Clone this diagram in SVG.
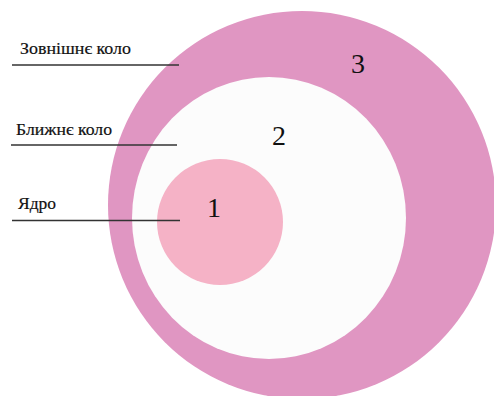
<svg xmlns="http://www.w3.org/2000/svg" width="494" height="396" viewBox="0 0 494 396">
<style>
.lbl{font-family:"Liberation Serif","Times New Roman",serif;font-size:17.5px;fill:#111;stroke:#111;stroke-width:0.2}
.num{font-family:"Liberation Serif","Times New Roman",serif;font-size:28px;fill:#111;text-anchor:middle}
.ln{stroke:#333;stroke-width:1.4;fill:none}
</style>
<rect width="494" height="396" fill="#ffffff"/>
<g id="outer"><circle cx="302" cy="205" r="194" fill="#e096c2"/><text class="num" x="358" y="73">3</text></g>
<g id="near"><ellipse cx="269" cy="218" rx="137" ry="141" fill="#fcfcfc"/><text class="num" x="279" y="145">2</text></g>
<g id="core"><circle cx="220" cy="222" r="63" fill="#f5b2c6"/><text class="num" x="214" y="217">1</text></g>
<g id="labels">
<text class="lbl" x="20" y="54" textLength="111" lengthAdjust="spacingAndGlyphs">Зовнішнє коло</text>
<text class="lbl" x="16" y="135" textLength="96" lengthAdjust="spacingAndGlyphs">Ближнє коло</text>
<text class="lbl" x="18" y="209" textLength="38" lengthAdjust="spacingAndGlyphs">Ядро</text>
</g>
<g id="connectors">
<line class="ln" x1="12" y1="65" x2="179" y2="65"/>
<line class="ln" x1="11" y1="145" x2="177" y2="145"/>
<line class="ln" x1="12" y1="220.5" x2="180" y2="220.5"/>
</g>
</svg>
